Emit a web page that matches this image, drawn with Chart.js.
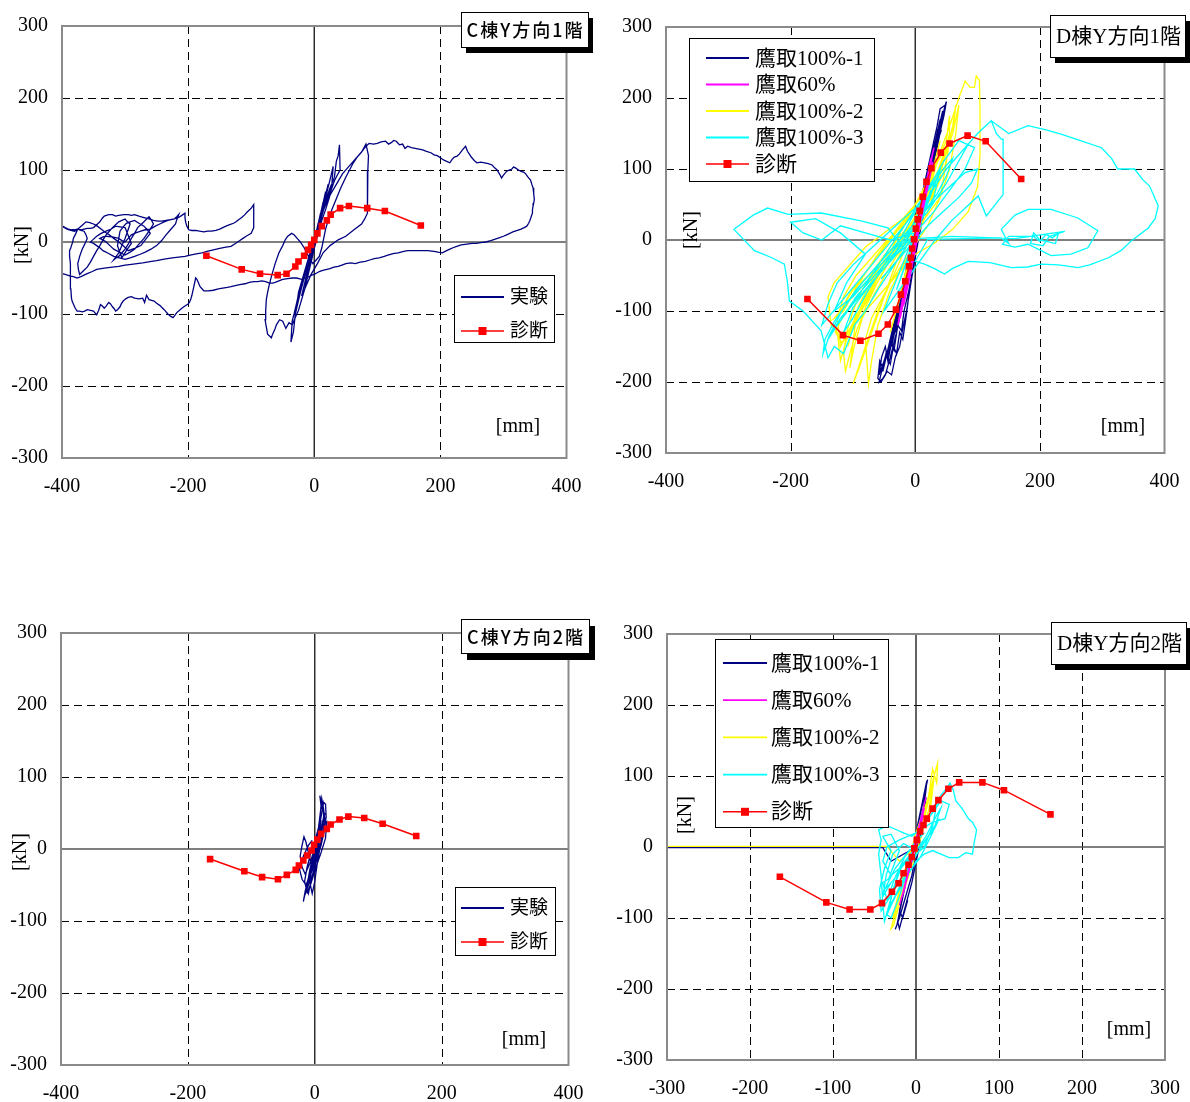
<!DOCTYPE html>
<html>
<head>
<meta charset="utf-8">
<script src="https://cdn.jsdelivr.net/npm/chart.js@4.4.1/dist/chart.umd.min.js"></script>
<style>
  html, body { margin: 0; padding: 0; background: #fff; }
  #wrap { position: relative; width: 1190px; height: 1102px; }
  canvas { position: absolute; }
</style>
</head>
<body>
<div id="wrap">
  <canvas id="c1" width="595" height="551" style="left:0;top:0"></canvas>
  <canvas id="d1" width="595" height="551" style="left:595px;top:0"></canvas>
  <canvas id="c2" width="595" height="551" style="left:0;top:551px"></canvas>
  <canvas id="d2" width="595" height="551" style="left:595px;top:551px"></canvas>
</div>
<script>
// ---- tick labels / ranges ----
const yTicks = [-300, -200, -100, 0, 100, 200, 300];
const xTicksWide = [-400, -200, 0, 200, 400];
const xTicksNarrow = [-300, -200, -100, 0, 100, 200, 300];

const cLabels = ['実験', '診断'];
const dLabels = ['鷹取100%-1', '鷹取60%', '鷹取100%-2', '鷹取100%-3', '診断'];

// ---- C棟 1階 ----
const c1Exp = [
  [0,0],[6,25],[-4,-15],[10,40],[-8,-35],[14,55],[-12,-50],[18,70],[-15,-65],[8,20],[22,80],[-20,-75],[-5,-20],
  [26,90],[30,105],[28,80],[20,60],[10,30],[0,0],[-10,-30],[-20,-60],[-28,-90],[-25,-70],[-15,-40],[-5,-10],
  [5,20],[15,50],[25,75],[32,90],[35,112],[38,120],[40,135],[41,100],[36,92],[32,85],[22,60],[15,45],[8,25],
  [0,5],[-8,-20],[-15,-40],[-22,-62],[-28,-85],[-32,-100],[-35,-110],[-37,-139],[-33,-125],[-30,-100],
  [-26,-85],[-22,-70],[-16,-50],[-10,-35],[-4,-15],[0,-5],[6,10],[12,30],[18,45],[25,65],[35,80],[45,95],
  [55,105],[65,115],[75,125],[82,136],[86,120],[85,100],[85,80],[84,60],[84,40],[80,32],[75,25],[63,17],
  [50,8],[38,3],[25,-5],[14,-15],[5,-30],[-5,-45],[-15,-65],[-25,-95],[-30,-105],[-35,-115],[-40,-112],
  [-45,-120],[-50,-110],[-55,-108],[-60,-115],[-62,-120],[-66,-128],[-68,-133],[-74,-128],[-76,-118],
  [-78,-108],[-77,-95],[-76,-80],[-74,-70],[-72,-62],[-68,-48],[-62,-30],[-56,-15],[-50,-5],[-46,3],[-42,8],
  [-36,12],[-32,10],[-26,4],[-22,0],[-16,-8],[-12,-15],[-6,-25],[-2,-30],[3,-25],[8,-20],[12,-8],[15,5],
  [18,18],[22,30],[28,45],[35,60],[42,75],[50,90],[56,100],[62,110],[68,118],[75,125],[81,132],[87,137],
  [94,136],[100,137],[106,139],[113,140],[118,136],[122,138],[126,141],[130,140],[135,135],[140,136],
  [144,130],[148,133],[154,131],[160,130],[166,129],[172,128],[178,126],[185,124],[190,121],[195,120],
  [200,117],[205,114],[210,112],[215,110],[218,114],[222,118],[226,119],[230,122],[235,128],[240,133],
  [243,126],[246,122],[249,118],[252,115],[255,112],[258,110],[264,111],[270,110],[276,109],[282,107],
  [286,103],[290,100],[294,94],[297,89],[300,93],[305,98],[309,100],[313,101],[316,104],[319,103],
  [324,100],[328,98],[332,97],[335,95],[339,90],[343,86],[345,80],[347,75],[348,67],[349,59],[348,54],
  [347,50],[346,45],[346,40],[344,35],[342,30],[340,26],[337,22],[333,20],[328,18],[322,16],[315,14],
  [310,12],[305,10],[300,8],[294,6],[287,4],[280,2],[272,0],[264,-1],[257,-2],[250,-2],[242,-3],[233,-4],
  [226,-6],[220,-8],[215,-10],[210,-12],[203,-15],[196,-14],[190,-13],[180,-12],[170,-12],[162,-12],
  [155,-12],[148,-12],[142,-13],[133,-15],[125,-16],[118,-18],[111,-20],[103,-22],[95,-23],[88,-25],
  [81,-27],[73,-28],[65,-30],[58,-29],[50,-30],[44,-32],[38,-34],[31,-35],[25,-37],[20,-38],[15,-39],
  [11,-40],[8,-41],[4,-43],[0,-45],[-4,-46],[-8,-48],[-14,-50],[-20,-52],[-28,-50],[-35,-50],[-42,-51],
  [-50,-52],[-56,-54],[-62,-56],[-66,-57],[-71,-57],[-77,-55],[-83,-54],[-90,-55],[-96,-55],[-103,-56],
  [-110,-58],[-116,-59],[-122,-60],[-127,-61],[-132,-62],[-138,-63],[-145,-64],[-152,-65],[-160,-67],
  [-168,-68],[-175,-68],[-178,-65],[-181,-62],[-184,-56],[-186,-52],[-188,-50],[-190,-58],[-192,-66],
  [-194,-74],[-196,-80],[-198,-84],[-200,-86],[-205,-89],[-210,-92],[-214,-95],[-218,-98],[-221,-102],
  [-224,-105],[-228,-103],[-232,-100],[-238,-94],[-245,-88],[-250,-85],[-254,-82],[-258,-81],[-262,-80],
  [-266,-74],[-269,-84],[-272,-78],[-278,-79],[-285,-78],[-290,-76],[-295,-77],[-299,-79],[-303,-82],
  [-306,-86],[-308,-90],[-312,-94],[-315,-96],[-317,-93],[-320,-90],[-323,-86],[-326,-84],[-330,-89],
  [-333,-92],[-336,-89],[-339,-87],[-342,-95],[-345,-101],[-348,-98],[-350,-96],[-355,-95],[-360,-94],
  [-364,-96],[-368,-97],[-372,-96],[-376,-96],[-379,-92],[-382,-86],[-384,-82],[-385,-78],[-386,-65],
  [-386,-55],[-387,-42],[-387,-30],[-388,-20],[-388,-12],[-386,-8],[-385,-5],[-383,0],[-382,5],[-378,12],
  [-375,18],[-372,17],[-370,17],[-365,18],[-360,19],[-355,19],[-350,20],[-345,24],[-340,28],[-336,33],
  [-333,36],[-326,38],[-320,38],[-315,36],[-310,37],[-302,38],[-295,38],[-290,37],[-285,38],[-278,36],
  [-270,34],[-262,32],[-255,30],[-248,29],[-242,29],[-235,30],[-228,31],[-222,32],[-215,34],[-210,37],
  [-205,40],[-205,34],[-204,28],[-202,22],[-199,17],[-194,16],[-188,16],[-182,15],[-175,14],[-169,15],
  [-163,15],[-156,16],[-150,18],[-145,20],[-140,22],[-134,24],[-128,26],[-124,28],[-120,31],[-115,34],
  [-110,38],[-106,42],[-102,45],[-99,48],[-96,52],[-96,44],[-96,35],[-96,28],[-96,20],[-98,16],[-100,12],
  [-104,10],[-108,8],[-113,5],[-118,2],[-125,-2],[-132,-6],[-140,-7],[-150,-9],[-160,-11],[-170,-13],
  [-178,-15],[-185,-16],[-195,-18],[-205,-20],[-215,-21],[-225,-22],[-233,-23],[-240,-24],[-250,-26],
  [-258,-27],[-265,-28],[-272,-29],[-281,-30],[-290,-31],[-300,-32],[-310,-34],[-320,-35],[-330,-36],
  [-338,-37],[-345,-38],[-352,-41],[-360,-44],[-365,-46],[-370,-48],[-376,-50],[-382,-48],[-388,-47],
  [-395,-45],[-403,-43],[-410,-10],[-403,24],[-399,22],[-395,20],[-390,18],[-385,17],[-380,17],[-375,18],
  [-370,16],[-365,15],[-362,10],[-360,5],[-364,-3],[-368,-10],[-372,-20],[-375,-30],[-374,-38],[-372,-45],
  [-366,-40],[-360,-35],[-355,-28],[-350,-20],[-345,-12],[-340,-5],[-335,3],[-330,10],[-325,15],[-320,20],
  [-315,24],[-310,28],[-305,30],[-300,32],[-296,28],[-292,25],[-296,15],[-300,5],[-305,-5],[-310,-15],
  [-314,-20],[-318,-25],[-314,-22],[-310,-20],[-305,-15],[-300,-10],[-295,-3],[-290,5],[-285,12],[-280,20],
  [-275,24],[-270,28],[-266,32],[-262,35],[-258,30],[-255,25],[-262,15],[-270,5],[-278,-3],[-285,-10],
  [-292,-14],[-300,-18],[-309,-14],[-318,-10],[-324,-5],[-330,0],[-335,3],[-340,5],[-335,7],[-330,8],
  [-320,7],[-310,5],[-305,2],[-300,0],[-295,5],[-290,10],[-282,13],[-275,15],[-268,17],[-260,18],
  [-252,22],[-245,25],[-238,28],[-232,30],[-227,31],[-222,32],[-218,35],[-215,38],[-218,31],[-220,25],
  [-228,17],[-235,10],[-242,2],[-250,-5],[-259,-10],[-268,-14],[-276,-17],[-285,-20],[-292,-22],
  [-300,-24],[-309,-22],[-318,-20],[-326,-16],[-335,-12],[-340,-8],[-345,-5],[-350,-2],[-355,0],[-350,4],
  [-345,8],[-338,12],[-330,15],[-322,18],[-315,22],[-308,21],[-300,20],[-295,9],[-290,-2],[-298,-12],
  [-305,-22],[-309,-13],[-312,-5],[-310,5],[-308,15],[-303,21],[-298,26],[-292,28],[-285,30],[-278,26],
  [-270,22],[-265,17],[-260,12],[-268,3],[-275,-5],[-285,-9],[-295,-12],[-302,-6],[-310,0],[-318,5],
  [-325,10],[-332,14],[-338,18],[-344,22],[-350,25],[-356,27],[-362,28],[-367,24],[-372,20],[-376,17],
  [-380,15],[-386,16],[-392,18],[-396,20],[-400,22],[-405,20]
];
const c1DiagX = [-171,-115,-86,-58,-44,-30,-25,-16,-10,-5,0,5,12,20,26,41,55,84,112,169];
const c1DiagY = [-19,-38,-44,-46,-44,-34,-27,-19,-11,-4,3,12,22,30,38,47,50,47,43,23];

// ---- C棟 2階 ----
const c2Exp = [
  [0,0],[4,15],[-4,-15],[8,30],[-8,-30],[10,45],[-12,-50],[6,20],[-2,-10],[12,55],[8,74],[10,60],[13,65],
  [14,45],[10,20],[4,0],[-4,-25],[-10,-50],[-16,-65],[-18,-73],[-15,-58],[-10,-40],[-4,-15],[3,10],[8,35],
  [14,65],[17,62],[18,45],[15,25],[10,5],[3,-15],[-5,-40],[-10,-62],[-13,-55],[-8,-30],[-2,-5],[6,20],[10,40],
  [7,25],[0,0],[-8,-20],[-15,-35],[-20,-25],[-23,-10],[-20,5],[-17,17],[-14,10],[-10,-5],[-6,-20],[0,-15],
  [5,5],[10,30],[16,50],[12,30],[5,10],[-3,-20],[-8,-45],[-4,-62],[0,-45],[4,-20],[8,0],[12,20],[15,35],
  [19,38],[17,15],[10,-5],[2,-25],[-6,-48],[-12,-60],[-16,-45],[-12,-25],[-6,-5],[0,10],[6,30],[9,52],
  [11,70],[14,55],[16,40],[13,20],[6,0],[-4,-30],[-14,-50],[-20,-42],[-24,-28],[-18,-10],[-10,5],[-4,12]
];
const c2DiagX = [-165,-111,-83,-58,-44,-30,-25,-18,-12,-5,-1,4,10,19,25,39,53,78,107,160];
const c2DiagY = [-14,-31,-39,-42,-36,-29,-23,-16,-9,-2,6,13,21,28,34,41,45,43,35,18];

// ---- D棟 1階 ----
const d1Run1 = [
  [0,0],[8,30],[-6,-25],[12,50],[-10,-45],[18,75],[-15,-70],[22,95],[-20,-90],[28,120],[-26,-110],[32,140],
  [-32,-130],[36,155],[-38,-150],[40,170],[-45,-165],[44,182],[-52,-185],[48,190],[50,195],[46,175],[42,160],
  [35,130],[25,90],[15,50],[8,20],[0,-10],[-10,-50],[-20,-90],[-30,-130],[-40,-165],[-48,-190],[-55,-200],
  [-60,-195],[-57,-170],[-52,-180],[-47,-160],[-40,-175],[-35,-150],[-30,-160],[-25,-130],[-20,-140],
  [-15,-110],[-12,-90],[-8,-60],[0,-20],[8,15],[15,45],[22,75],[30,110],[38,145],[44,170],[48,190],[40,185],
  [35,160],[30,140],[20,100],[10,60],[2,20],[-8,-20],[-18,-60],[-28,-100],[-38,-140],[-50,-170],[-58,-200],
  [-52,-195],[-45,-185],[-38,-190],[-32,-165],[-25,-150],[-20,-125],[-14,-100],[-5,-50],[5,0],[12,30],
  [20,70],[26,95],[32,125],[38,150],[42,165],[45,180],[40,160],[36,140],[30,120],[24,100],[16,70],[8,40],
  [0,10],[-8,-25],[-16,-60],[-24,-95],[-34,-130],[-44,-160],[-52,-175],[-58,-190],[-54,-165],[-48,-150],
  [-44,-170],[-38,-145],[-34,-155],[-28,-120],[-22,-128],[-18,-100],[-10,-70],[-4,-40],[4,-5],[10,25],
  [18,60],[25,90],[30,115],[36,140],[42,155]
];
const d1Run60 = [
  [0,0],[8,35],[-6,-30],[14,60],[-12,-55],[20,90],[-18,-85],[25,115],[-24,-110],[30,130],[22,100],[10,50],
  [0,5],[-10,-40],[-20,-80],[-28,-120],[-22,-100],[-12,-60],[0,-10],[12,40],[24,90],[28,110],[20,80],
  [12,45],[4,15],[-6,-25],[-16,-65],[-24,-100],[-18,-90],[-8,-50],[2,-5],[10,35],[18,70],[26,105]
];
const d1Run2 = [
  [0,0],[10,30],[-10,-30],[20,60],[-20,-60],[30,100],[-30,-100],[40,140],[-40,-130],[35,110],[20,60],[0,20],
  [-30,-40],[-60,-100],[-80,-150],[-95,-190],[-100,-203],[-90,-180],[-70,-130],[-50,-80],[-30,-30],[0,30],
  [30,100],[55,160],[70,200],[80,224],[88,215],[95,215],[98,231],[103,225],[104,180],[104,120],[100,75],
  [85,40],[60,15],[30,-5],[0,-20],[-30,-50],[-60,-80],[-90,-110],[-110,-140],[-120,-170],[-125,-130],
  [-135,-120],[-140,-80],[-130,-60],[-110,-40],[-80,-10],[-50,10],[-20,30],[10,60],[30,100],[50,140],
  [55,175],[55,150],[50,110],[40,60],[20,20],[-10,-20],[-40,-60],[-70,-110],[-80,-140],[-75,-203],
  [-70,-170],[-60,-120],[-40,-70],[-10,-20],[20,40],[40,90],[45,120],[30,80],[0,20],[-40,-20],[-80,-60],
  [-110,-90],[-130,-110],[-115,-100],[-90,-60],[-60,-20],[-30,15],[0,50],[20,80],[15,50],[-10,10],[-50,-30],
  [-100,-70],[-120,-100],[-105,-75],[-70,-35],[-40,0],[-10,35],[-110,-140],[-90,-100],[-70,-60],[-40,-20],
  [-10,20],[20,60],[40,100],[60,150],[70,190],[65,150],[55,100],[40,60],[15,30],[-15,0],[-45,-30],
  [-75,-70],[-95,-110],[-105,-180],[-98,-150],[-85,-110],[-65,-75],[-45,-45],[-25,-15],[-5,15],[15,45],
  [30,75],[45,110],[62,165],[65,190],[60,160],[50,125],[38,85],[22,55],[0,25],[-25,-5],[-55,-35],
  [-85,-70],[-115,-105],[-128,-130],[-118,-145],[-100,-120],[-80,-90],[-55,-50],[-30,-10],[-5,25],
  [20,60],[35,90],[48,130],[-120,-150],[-125,-110],[-115,-80],[-95,-50],[-70,-25],[-45,0],[-20,20],[5,45],
  [25,75],[40,105],[50,130],[55,150],[52,120],[45,95],[30,65],[10,40],[-15,15],[-40,-10],[-65,-40],
  [-85,-70],[-100,-100],[-110,-130],[-115,-160],[-112,-185],[-105,-160],[-95,-130],[-80,-95],[-62,-62],
  [-45,-35],[-28,-10],[-10,12],[8,35],[22,60],[35,88],[44,112],[40,90],[28,62],[10,38],[-10,18],
  [-32,-8],[-55,-35],[-75,-65],[-92,-95],[-102,-125],[-108,-150]
];
const d1Run3 = [
  [0,0],[15,40],[-15,-40],[25,70],[-30,-70],[40,100],[-50,-100],[31,-1],[58,27],[101,62],[114,34],[141,64],
  [141,100],[141,142],[138,142],[130,150],[122,168],[100,150],[85,135],[70,120],[50,100],[20,60],[0,20],
  [-20,-10],[-44,17],[-87,27],[-151,38],[-204,36],[-237,45],[-260,35],[-291,15],[-258,-15],[-230,-25],
  [-210,-34],[-205,-60],[-202,-86],[-180,-100],[-151,-128],[-140,-166],[-130,-150],[-115,-160],[-97,-119],
  [-80,-100],[-60,-70],[-30,-30],[0,10],[-40,0],[-80,10],[-120,20],[-150,0],[-180,10],[-200,25],[-160,30],
  [-120,10],[-80,-20],[-110,-60],[-130,-100],[-100,-80],[-60,-40],[-20,0],[20,40],[50,80],[85,135],
  [100,150],[122,168],[150,150],[181,161],[210,155],[234,149],[265,140],[299,130],[315,115],[325,100],
  [352,100],[365,85],[376,76],[390,48],[385,30],[374,17],[347,-1],[330,-15],[310,-25],[280,-35],[261,-39],
  [230,-35],[202,-34],[180,-38],[154,-39],[120,-32],[85,-30],[60,-40],[47,-48],[30,-40],[15,-34],[0,-30],
  [20,1],[80,2],[138,3],[150,-5],[138,15],[160,35],[181,43],[218,43],[261,31],[293,13],[277,-11],[250,-20],
  [218,-22],[181,-6],[160,-10],[140,-6],[150,5],[190,5],[200,-2],[210,8],[220,3],[230,10],[225,-5],[200,0],
  [190,10],[185,-5],[205,-8],[215,5],[240,12],[160,2],[60,5],[0,2],[-30,-20],[-60,-50],[-90,-80],
  [-120,-110],[-140,-140],[-125,-120],[-100,-90],[-70,-50],[-40,-10],[-10,30],[20,70],[45,110],[70,140],
  [95,130],[80,100],[55,70],[30,40],[0,10],[-35,-25],[-70,-60],[-100,-95],[-115,-130],[-100,-110],
  [-75,-70],[-50,-35],[-25,0],[0,40],[25,80],[40,100],[30,60],[5,25],[-20,-5],[-50,-40],[-85,-75],
  [-110,-100],[-95,-80],[-60,-45],[-30,-15],[-5,20],[15,55],[-150,-120],[-140,-90],[-125,-60],[-100,-35],
  [-75,-15],[-50,5],[-25,25],[0,45],[25,75],[45,100],[60,115],[50,90],[35,65],[15,40],[-10,15],[-35,-10],
  [-60,-35],[-85,-60],[-110,-90],[-130,-115],[-145,-140],[-148,-160],[-138,-135],[-118,-100],[-95,-70],
  [-70,-45],[-45,-20],[-20,5],[5,30],[30,55],[55,75],[80,95],[100,100],[90,80],[70,60],[45,40],[20,20],
  [-5,-5],[-30,-30],[-55,-55]
];
const d1DiagX = [-173,-116,-88,-59,-44,-31,-23,-16,-10,-7,-5,-2,1,4,7,12,18,26,41,55,84,113,170];
const d1DiagY = [-83,-134,-142,-132,-119,-98,-77,-58,-37,-25,-12,1,16,29,41,61,82,101,123,136,147,139,86];

// ---- D棟 2階 ----
const d2Run1 = [
  [-300,-1],[-40,-1],[-30,-20],[0,0],[5,30],[-10,-40],[10,60],[-18,-80],[14,95],[-23,-110],[-25,-116],
  [-20,-100],[-15,-80],[-5,-40],[5,20],[12,80],[13,93],[0,20],[-15,-60],[-22,-105],[-20,-115],[-12,-80],
  [-5,-50],[2,-10],[8,30],[12,70],[6,40],[-4,-10],[-14,-60],[-20,-90],[-16,-100],[-10,-75]
];
const d2Run60 = [
  [0,0],[5,25],[-6,-25],[9,45],[-12,-50],[12,70],[-18,-75],[8,40],[-2,0],[-14,-60],[-20,-82],[-10,-40],
  [2,10],[10,55]
];
const d2Run2 = [
  [-300,1],[-35,1],[-20,-20],[0,0],[10,50],[-15,-60],[20,90],[-25,-100],[26,118],[25,90],[20,110],[15,70],
  [0,20],[-20,-70],[-30,-115],[-27,-110],[-20,-80],[0,-10],[15,50],[22,100],[18,60],[5,20],[-15,-40],[-25,-90],
  [-20,-60],[-5,-10],[10,40],[18,80],[12,50],[-2,10],[-18,-50],[-28,-100]
];
const d2Run3 = [
  [0,0],[-20,-30],[-38,-105],[-40,-80],[-42,-40],[-45,-10],[-42,10],[-45,24],[-35,30],[-25,25],[-15,20],
  [-5,15],[0,20],[10,30],[20,50],[28,70],[35,80],[41,90],[45,80],[48,65],[55,55],[63,40],[68,35],[73,24],
  [70,5],[68,-10],[60,-8],[51,-15],[40,-15],[30,-10],[20,-5],[10,-10],[0,-20],[-10,-40],[-25,-70],[-35,-95],
  [-30,-100],[-20,-70],[-10,-30],[0,10],[15,40],[25,60],[20,30],[10,0],[-10,-20],[-30,-40],[-40,-20],
  [-35,0],[-20,10],[0,20],[20,35],[35,40],[40,60],[30,65],[15,40],[-5,0],[-25,-30],[-38,-60],[-30,-50],
  [-40,-70],[-36,-40],[-28,-10],[-15,5],[0,-5],[12,15],[25,45],[30,55],[20,20],[5,-15],[-15,-45],[-32,-85],
  [-28,-60],[-18,-30],[-5,-10],[8,5],[22,25],[28,40],[-42,-90],[-44,-60],[-38,-30],[-30,-5],[-40,15],
  [-30,18],[-20,-5],[-33,-45],[-40,-50],[-35,-75],[-26,-45],[-14,-15],[-2,5],[10,20]
];
const d2DiagX = [-164,-108,-80,-55,-41,-29,-21,-15,-9,-5,-2,1,5,9,13,20,27,39,52,80,106,162];
const d2DiagY = [-42,-78,-88,-88,-79,-63,-51,-37,-25,-14,-2,10,22,31,40,54,66,82,91,91,80,46];

// ---- helpers ----
const pts = a => a.map(p => ({ x: p[0], y: p[1] }));
const zip = (xs, ys) => xs.map((x, i) => ({ x: x, y: ys[i] }));
const serif = '"Liberation Serif", "Noto Sans CJK JP"';

function curve(label, color, data, order) {
  return { label: label, data: pts(data), borderColor: color, backgroundColor: color,
    showLine: true, pointRadius: 0, borderWidth: 1.3, order: order };
}
function diag(label, xs, ys) {
  return { label: label, data: zip(xs, ys), borderColor: '#ff0000', backgroundColor: '#ff0000',
    showLine: true, pointStyle: 'rect', pointRadius: 3.6, borderWidth: 1.5, order: 0, marker: true };
}

// grid, frame, title box, legend box, unit labels
const frame = {
  id: 'frame',
  beforeDatasetsDraw(chart, args, o) {
    const { ctx, chartArea: a, scales: { x, y } } = chart;
    ctx.save();
    ctx.lineWidth = 1;
    ctx.strokeStyle = '#000';
    ctx.setLineDash([8, 5]);
    o.xGrid.forEach(v => {
      const px = Math.round(x.getPixelForValue(v)) + 0.5;
      ctx.beginPath(); ctx.moveTo(px, a.top); ctx.lineTo(px, a.bottom); ctx.stroke();
    });
    [-200, -100, 100, 200].forEach(v => {
      const py = Math.round(y.getPixelForValue(v)) + 0.5;
      ctx.beginPath(); ctx.moveTo(a.left, py); ctx.lineTo(a.right, py); ctx.stroke();
    });
    ctx.setLineDash([]);
    ctx.lineWidth = 1.4;
    ctx.strokeStyle = '#222';
    const x0 = x.getPixelForValue(0);
    ctx.beginPath(); ctx.moveTo(x0, a.top); ctx.lineTo(x0, a.bottom); ctx.stroke();
    ctx.strokeStyle = '#555';
    const y0 = y.getPixelForValue(0);
    ctx.beginPath(); ctx.moveTo(a.left, y0); ctx.lineTo(a.right, y0); ctx.stroke();
    ctx.restore();
  },
  afterDatasetsDraw(chart, args, o) {
    const { ctx, chartArea: a } = chart;
    ctx.save();
    // plot border
    ctx.lineWidth = 2;
    ctx.strokeStyle = '#8a8a8a';
    ctx.strokeRect(a.left, a.top, a.right - a.left, a.bottom - a.top);

    // unit labels
    ctx.fillStyle = '#000';
    ctx.font = '20px ' + serif;
    ctx.textAlign = 'center';
    ctx.textBaseline = 'middle';
    ctx.fillText('[mm]', o.mm[0], o.mm[1]);
    ctx.save();
    ctx.translate(o.kN[0], o.kN[1]);
    ctx.rotate(-Math.PI / 2);
    ctx.fillText('[kN]', 0, 0);
    ctx.restore();

    // title box with shadow
    const t = o.title;
    ctx.fillStyle = '#000';
    ctx.fillRect(t.x + t.sx, t.y + t.sy, t.w, t.h);
    ctx.fillStyle = '#fff';
    ctx.fillRect(t.x, t.y, t.w, t.h);
    ctx.lineWidth = 1;
    ctx.strokeStyle = '#000';
    ctx.strokeRect(t.x + 0.5, t.y + 0.5, t.w, t.h);
    ctx.fillStyle = '#000';
    ctx.font = t.font;
    ctx.letterSpacing = t.spacing || '0px';
    ctx.fillText(t.text, t.x + t.w / 2 + 1, t.y + t.h / 2 + 1);
    ctx.letterSpacing = '0px';

    // legend box
    const g = o.legend;
    ctx.fillStyle = '#fff';
    ctx.fillRect(g.x, g.y, g.w, g.h);
    ctx.strokeStyle = '#000';
    ctx.strokeRect(g.x + 0.5, g.y + 0.5, g.w, g.h);
    ctx.font = g.font;
    ctx.textAlign = 'left';
    chart.data.datasets.forEach((ds, i) => {
      const ry = g.row0 + i * g.step;
      ctx.strokeStyle = ds.borderColor;
      ctx.lineWidth = ds.marker ? 1.5 : 1.8;
      ctx.beginPath(); ctx.moveTo(g.l0, ry); ctx.lineTo(g.l1, ry); ctx.stroke();
      if (ds.marker) {
        ctx.fillStyle = ds.backgroundColor;
        ctx.fillRect((g.l0 + g.l1) / 2 - 4, ry - 4, 8, 8);
      }
      ctx.fillStyle = '#000';
      ctx.fillText(ds.label, g.tx, ry + 1);
    });
    ctx.restore();
  }
};

function noPad(s) {
  s.paddingLeft = 0; s.paddingRight = 0; s.paddingTop = 0; s.paddingBottom = 0;
}

function makePanel(id, datasets, xTicks, box, o) {
  new Chart(document.getElementById(id), {
    type: 'scatter',
    data: { datasets: datasets },
    plugins: [frame],
    options: {
      responsive: false,
      animation: false,
      devicePixelRatio: 1,
      layout: { autoPadding: false, padding: { left: 0, top: box.top, right: box.right, bottom: 0 } },
      plugins: { legend: { display: false }, tooltip: { enabled: false }, frame: o },
      scales: {
        x: {
          type: 'linear', min: xTicks[0], max: xTicks[xTicks.length - 1],
          afterBuildTicks: s => { s.ticks = xTicks.map(v => ({ value: v })); },
          afterFit: s => { s.height = box.xh; noPad(s); },
          grid: { display: false, drawTicks: false }, border: { display: false },
          ticks: { color: '#000', padding: 17, maxRotation: 0, font: { family: serif, size: 20 } }
        },
        y: {
          type: 'linear', min: -300, max: 300,
          afterBuildTicks: s => { s.ticks = yTicks.map(v => ({ value: v })); },
          afterFit: s => { s.width = box.yw; noPad(s); },
          grid: { display: false, drawTicks: false }, border: { display: false },
          ticks: { color: '#000', padding: 14, font: { family: serif, size: 20 } }
        }
      }
    }
  });
}

const gothic = '500 18px "Noto Sans CJK JP"';

makePanel('c1', [
  curve(cLabels[0], '#000080', c1Exp, 1),
  diag(cLabels[1], c1DiagX, c1DiagY)
], xTicksWide, { top: 26, right: 28.5, xh: 93, yw: 62 }, {
  xGrid: [-200, 200], mm: [518, 427], kN: [23, 245],
  title: { text: 'C棟Y方向1階', x: 461, y: 12, w: 127, h: 35, sx: 5, sy: 6, font: gothic, spacing: '2px' },
  legend: { x: 454, y: 275, w: 100, h: 67, row0: 297, step: 34, l0: 461, l1: 504, tx: 510, font: '19px ' + serif }
});

makePanel('d1', [
  curve(dLabels[0], '#000080', d1Run1, 4),
  curve(dLabels[1], '#ff00ff', d1Run60, 1),
  curve(dLabels[2], '#ffff00', d1Run2, 3),
  curve(dLabels[3], '#00ffff', d1Run3, 2),
  diag(dLabels[4], d1DiagX, d1DiagY)
], xTicksWide, { top: 27, right: 25.5, xh: 98, yw: 71 }, {
  xGrid: [-200, 200], mm: [528, 427], kN: [97, 230],
  title: { text: 'D棟Y方向1階', x: 455, y: 15, w: 135, h: 42, sx: 5, sy: 6, font: '21px ' + serif },
  legend: { x: 94, y: 38, w: 185, h: 143, row0: 58, step: 26.5, l0: 111, l1: 154, tx: 160, font: '21px ' + serif }
});

makePanel('c2', [
  curve(cLabels[0], '#000080', c2Exp, 1),
  diag(cLabels[1], c2DiagX, c2DiagY)
], xTicksWide, { top: 82, right: 26.5, xh: 37, yw: 61 }, {
  xGrid: [-200, 200], mm: [524, 489], kN: [21, 301],
  title: { text: 'C棟Y方向2階', x: 461, y: 68, w: 128, h: 34, sx: 6, sy: 7, font: gothic, spacing: '2px' },
  legend: { x: 455, y: 336, w: 100, h: 68, row0: 357, step: 34, l0: 461, l1: 504, tx: 510, font: '19px ' + serif }
});

makePanel('d2', [
  curve(dLabels[0], '#000080', d2Run1, 4),
  curve(dLabels[1], '#ff00ff', d2Run60, 1),
  curve(dLabels[2], '#ffff00', d2Run2, 3),
  curve(dLabels[3], '#00ffff', d2Run3, 2),
  diag(dLabels[4], d2DiagX, d2DiagY)
], xTicksNarrow, { top: 83, right: 25, xh: 42, yw: 72 }, {
  xGrid: [-200, -100, 100, 200], mm: [534, 479], kN: [91, 264],
  title: { text: 'D棟Y方向2階', x: 456, y: 71, w: 135, h: 42, sx: 4, sy: 6, font: '21px ' + serif },
  legend: { x: 120, y: 88, w: 173, h: 188, row0: 112, step: 37.2, l0: 128, l1: 172, tx: 176, font: '21px ' + serif }
});
</script>
</body>
</html>
